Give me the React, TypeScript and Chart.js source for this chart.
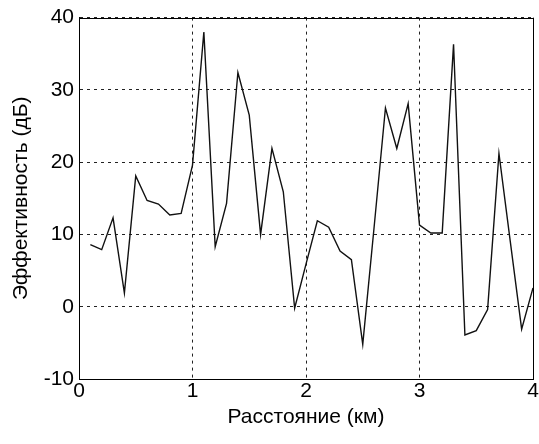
import React, { useEffect, useRef } from "react";
import { Chart, registerables } from "chart.js";

Chart.register(...registerables);

const distances = [
  0.1, 0.2, 0.3, 0.4, 0.5, 0.6, 0.7, 0.8, 0.9, 1.0,
  1.1, 1.2, 1.3, 1.4, 1.5, 1.6, 1.7, 1.8, 1.9, 2.0,
  2.1, 2.2, 2.3, 2.4, 2.5, 2.6, 2.7, 2.8, 2.9, 3.0,
  3.1, 3.2, 3.3, 3.4, 3.5, 3.6, 3.7, 3.8, 3.9, 4.0,
];
const efficiency = [
  8.6, 7.9, 12.3, 1.9, 18.1, 14.7, 14.2, 12.7, 12.9, 19.6,
  38.0, 8.3, 14.3, 32.4, 26.5, 10.0, 21.9, 15.9, -0.2, 5.9,
  11.9, 11.0, 7.7, 6.5, -5.2, 11.0, 27.5, 21.9, 28.1, 11.3,
  10.2, 10.2, 36.3, -3.9, -3.3, -0.4, 21.2, 9.0, -3.1, 2.6,
];
const xTitle = "Расстояние (км)";
const yTitle = "Эффективность (дБ)";

const FONT = "'Liberation Sans', Arial, sans-serif";

const framePlugin = {
  id: "frame",
  afterDatasetsDraw(chart: any) {
    const { ctx, chartArea } = chart;
    ctx.save();
    ctx.strokeStyle = "#000";
    ctx.lineWidth = 1;
    ctx.setLineDash([]);
    ctx.strokeRect(
      Math.round(chartArea.left) + 0.5,
      Math.round(chartArea.top) + 0.5,
      Math.round(chartArea.right - chartArea.left),
      Math.round(chartArea.bottom - chartArea.top)
    );
    ctx.restore();
  },
};

export default function App() {
  const ref = useRef<HTMLCanvasElement>(null);
  useEffect(() => {
    if (!ref.current) return;
    const chart = new Chart(ref.current, {
      type: "line",
      data: {
        datasets: [
          {
            data: distances.map((d, i) => ({ x: d, y: efficiency[i] })),
            borderColor: "#111",
            borderWidth: 1.4,
            pointRadius: 0,
            tension: 0,
            fill: false,
          },
        ],
      },
      options: {
        animation: false,
        responsive: false,
        layout: { padding: { left: 0, right: 6, top: 16, bottom: 0 } },
        plugins: { legend: { display: false }, tooltip: { enabled: false } },
        scales: {
          x: {
            type: "linear",
            min: 0,
            max: 4,
            afterFit: (s: any) => {
              s.height = 65;
            },
            ticks: {
              stepSize: 1,
              color: "#000",
              font: { family: FONT, size: 21 },
              padding: 0,
              maxRotation: 0,
            },
            grid: {
              color: "#222",
              lineWidth: 1,
              drawTicks: false,
            },
            border: { display: true, color: "#000", dash: [3, 4] },
            title: {
              display: true,
              text: xTitle,
              color: "#000",
              font: { family: FONT, size: 21 },
              padding: { top: 0, bottom: 14 },
            },
          },
          y: {
            min: -10,
            max: 40,
            afterFit: (s: any) => {
              s.width = 79;
            },
            ticks: {
              stepSize: 10,
              color: "#000",
              font: { family: FONT, size: 21 },
              padding: 5,
            },
            grid: {
              color: "#222",
              lineWidth: 1,
              drawTicks: false,
            },
            border: { display: true, color: "#000", dash: [3, 4] },
            title: {
              display: true,
              text: yTitle,
              color: "#000",
              font: { family: FONT, size: 21 },
              padding: { top: 9, bottom: 0 },
            },
          },
        },
      },
      plugins: [framePlugin],
    } as any);
    // dashed grid
    (chart.options.scales as any).x.grid.tickBorderDash = [];
    return () => chart.destroy();
  }, []);

  return (
    <div style={{ position: "fixed", left: 0, top: 0, width: 539, height: 444, background: "#fff" }}>
      <canvas ref={ref} width={539} height={444} />
    </div>
  );
}
